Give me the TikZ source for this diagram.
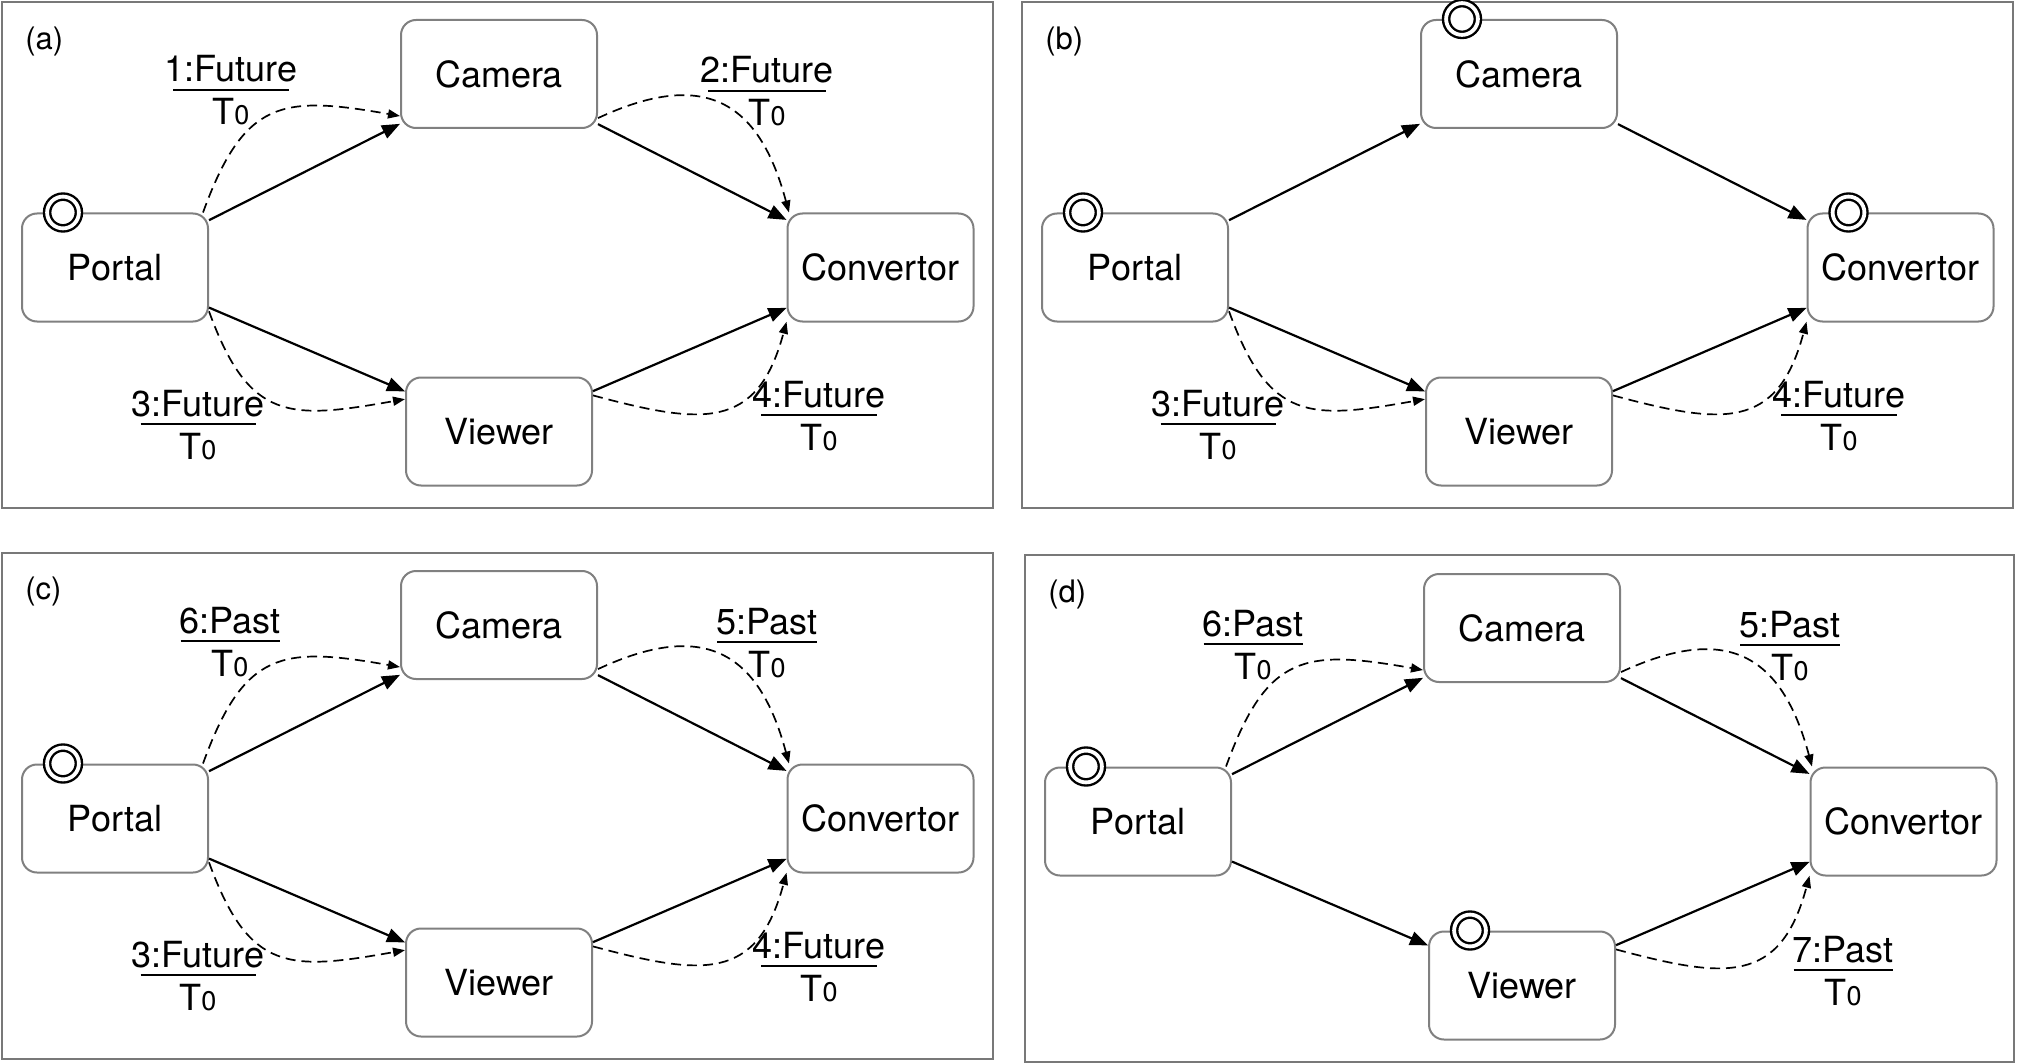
\documentclass[tikz,border=0pt]{standalone}
\usepackage{fontspec}
\setmainfont{TeX Gyre Heros}
\usetikzlibrary{arrows.meta}
\definecolor{boxgray}{RGB}{128,128,128}
\definecolor{framegray}{RGB}{120,120,120}
\tikzset{
  every node/.style={font=\fontsize{18}{21}\selectfont},
  box/.style={draw=boxgray, line width=1pt, rounded corners=7.5pt, fill=white,
    minimum width=93pt, minimum height=54pt, inner sep=0pt},
  wbox/.style={box, minimum width=98pt},
  frame/.style={draw=framegray, line width=1pt},
  sarrow/.style={line width=1.1pt, -{Triangle[length=9pt,width=7pt]}},
  darrow/.style={line width=0.85pt, dash pattern=on 5pt off 3pt,
    -{Triangle[length=6pt,width=4.5pt]}, looseness=1.4},
  lbltxt/.style={inner sep=0pt, anchor=base},
  lblbar/.style={line width=0.85pt},
  startmk/.style={circle, draw=black, fill=white, line width=1.2pt, double=white,
    double distance=1.9pt, minimum size=15.9pt, inner sep=0pt},
  plabel/.style={inner sep=0pt, anchor=base west, font=\fontsize{15.5}{18}\selectfont},
}
\newcommand{\tlabel}[5]{%
  \node[lbltxt] (#1) at (#2,-#3) {#4};
  \draw[lblbar] ([yshift=-4pt]#1.base) ++(-#5/2,0) -- ++(#5,0);
  \node[lbltxt] (#1t) at ([yshift=-21.5pt]#1.base) {T{\fontsize{13.5}{13.5}\selectfont 0}};
}
\newcommand{\startat}[2]{\node[startmk] (#1) at ([xshift=21pt]#2.north west) {};}
\newcommand{\basenodes}[1]{%
  \node[box] (#1p) at (115,-267.5) {Portal};
  \node[wbox] (#1c) at (499,-74) {Camera};
  \node[box] (#1o) at (880.5,-267.5) {Convertor};
  \node[box] (#1v) at (499,-431.5) {Viewer};
  \draw[sarrow] (#1p) -- (#1c);
  \draw[sarrow] (#1c) -- (#1o);
  \draw[sarrow] (#1p) -- (#1v);
  \draw[sarrow] (#1v) -- (#1o);
}
\newcommand{\dOne}[1]{\draw[darrow] (#1p.32) to[out=70,in=170] (#1c.203);}
\newcommand{\dTwo}[1]{\draw[darrow] (#1c.336) to[out=25,in=105] (#1o.149);}
\newcommand{\dThree}[1]{\draw[darrow] (#1p.335) to[out=-70,in=190] (#1v.161);}
\newcommand{\dFour}[1]{\draw[darrow] (#1v.21) to[out=-15,in=255] (#1o.210);}
\begin{document}
\begin{tikzpicture}[x=0.5pt,y=0.5pt]
\useasboundingbox (0,0) rectangle (2018,-1064);
\fill[white] (0,0) rectangle (2018,-1064);
% frames
\draw[frame] (2,-2) rectangle (993,-508);
\draw[frame] (1022,-2) rectangle (2013,-508);
\draw[frame] (2,-553) rectangle (993,-1059);
\draw[frame] (1025,-555) rectangle (2014,-1062);
% panel a
\begin{scope}
  \node[plabel] (la) at (25,-50) {(a)};
  \basenodes{a}
  \dOne{a}\dTwo{a}\dThree{a}\dFour{a}
  \startat{as1}{ap}
  \tlabel{a1}{231}{82}{1:Future}{116}
  \tlabel{a2}{767}{83}{2:Future}{118}
  \tlabel{a3}{198}{416}{3:Future}{115}
  \tlabel{a4}{819}{407}{4:Future}{116}
\end{scope}
% panel b
\begin{scope}[shift={(1020,0)}]
  \node[plabel] (lb) at (25,-50) {(b)};
  \basenodes{b}
  \dThree{b}\dFour{b}
  \startat{bs1}{bp}
  \startat{bs2}{bc}
  \startat{bs3}{bo}
  \tlabel{b3}{198}{416}{3:Future}{115}
  \tlabel{b4}{819}{407}{4:Future}{116}
\end{scope}
% panel c
\begin{scope}[shift={(0,-551)}]
  \node[plabel] (lc) at (25,-48) {(c)};
  \basenodes{c}
  \dOne{c}\dTwo{c}\dThree{c}\dFour{c}
  \startat{cs1}{cp}
  \tlabel{c1}{230}{82}{6:Past}{99}
  \tlabel{c2}{767}{83}{5:Past}{100}
  \tlabel{c3}{198}{416}{3:Future}{115}
  \tlabel{c4}{819}{407}{4:Future}{116}
\end{scope}
% panel d
\begin{scope}[shift={(1023,-554)}]
  \node[plabel] (ld) at (25,-48) {(d)};
  \basenodes{d}
  \dOne{d}\dTwo{d}\dFour{d}
  \startat{ds1}{dp}
  \startat{ds2}{dv}
  \tlabel{d1}{230}{82}{6:Past}{99}
  \tlabel{d2}{767}{83}{5:Past}{100}
  \tlabel{d4}{820}{408}{7:Past}{99}
\end{scope}
\end{tikzpicture}
\end{document}
